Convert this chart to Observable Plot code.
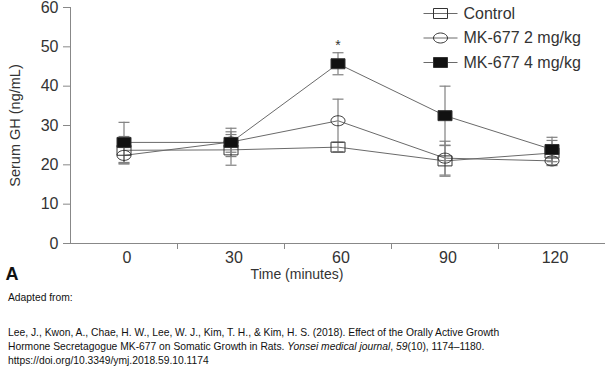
<!DOCTYPE html>
<html>
<head>
<meta charset="utf-8">
<script src="https://cdn.jsdelivr.net/npm/d3@7"></script>
<script src="https://cdn.jsdelivr.net/npm/@observablehq/plot@0.6"></script>
<style>
  html, body { margin: 0; padding: 0; background: #fff; }
  #chart { width: 605px; }
  .caption { font-family: "Liberation Sans", Arial, sans-serif; font-size: 10.3px; color: #111; padding-left: 8px; line-height: 14px; white-space: nowrap; }
  .caption p { margin: 0; }
</style>
</head>
<body>
<div id="chart"></div>
<div class="caption">
  <p style="margin-top:3px">Adapted from:</p>
  <p style="margin-top:21px">Lee, J., Kwon, A., Chae, H. W., Lee, W. J., Kim, T. H., &amp; Kim, H. S. (2018). Effect of the Orally Active Growth<br>Hormone Secretagogue MK-677 on Somatic Growth in Rats. <i>Yonsei medical journal</i>, <i>59</i>(10), 1174–1180.<br>https://doi.org/10.3349/ymj.2018.59.10.1174</p>
</div>
<script>
// ---- data ----
const times = [0, 30, 60, 90, 120];
const seriesNames = ["Control", "MK-677 2 mg/kg", "MK-677 4 mg/kg"];
const control = [23.7, 23.8, 24.5, 21.0, 23.0];
const controlErr = [3.5, 3.9, 1.2, 3.9, 3.2];
const mk2 = [22.4, 25.8, 31.2, 21.7, 21.0];
const mk2Err = [2.0, 2.6, 5.5, 4.3, 1.0];
const mk4 = [25.7, 25.7, 45.7, 32.5, 23.9];
const mk4Err = [5.1, 3.6, 2.8, 7.5, 3.1];
const yTicks = [0, 10, 20, 30, 40, 50, 60];
const xBoundaries = [15, 45, 75, 105];
const significance = [{time: 60, label: "*"}];

// ---- symbols ----
const rectSym = (w, h) => ({draw(ctx) { ctx.moveTo(-w/2, -h/2); ctx.lineTo(w/2, -h/2); ctx.lineTo(w/2, h/2); ctx.lineTo(-w/2, h/2); ctx.closePath(); }});
const ellipseSym = (rx, ry) => ({draw(ctx) {
  const k = 0.5523;
  ctx.moveTo(rx, 0);
  ctx.bezierCurveTo(rx, ry*k, rx*k, ry, 0, ry);
  ctx.bezierCurveTo(-rx*k, ry, -rx, ry*k, -rx, 0);
  ctx.bezierCurveTo(-rx, -ry*k, -rx*k, -ry, 0, -ry);
  ctx.bezierCurveTo(rx*k, -ry, rx, -ry*k, rx, 0);
  ctx.closePath();
}});
const hline = (w) => ({draw(ctx) { ctx.moveTo(-w/2, 0); ctx.lineTo(w/2, 0); }});

const values = [control, mk2, mk4];
const errs = [controlErr, mk2Err, mk4Err];
const symbols = [rectSym(14, 10), ellipseSym(7, 5), rectSym(14, 10)];
const fills = ["none", "none", "#111"];

const rows = [];
seriesNames.forEach((s, si) => times.forEach((t, i) => rows.push({series: s, si, time: t, value: values[si][i], err: errs[si][i]})));

const lineColor = "#6a6a6a";
const barColor = "#808080";
const markStroke = "#333";
const font = "'Liberation Sans', Arial, sans-serif";

const marks = [
  Plot.ruleX([-15], {y1: 0, y2: 60, stroke: "#888", strokeWidth: 1}),
  Plot.ruleY([0], {stroke: "#888", strokeWidth: 1}),
  Plot.axisY(yTicks, {tickSize: 7, tickPadding: 5, fontSize: 16, fill: "#333", stroke: "#888", label: null, fontFamily: font}),
  Plot.axisX(xBoundaries, {tickSize: 6, tickFormat: () => "", stroke: "#888", label: null}),
  Plot.axisX(times, {tickSize: 0, tickPadding: 8, dx: 3, fontSize: 16, fill: "#333", label: null, fontFamily: font}),
  Plot.line(rows, {x: "time", y: "value", z: "series", stroke: lineColor, strokeWidth: 1}),
  Plot.ruleX(rows, {x: "time", y1: d => d.value - d.err, y2: d => d.value + d.err, stroke: barColor, strokeWidth: 1.2}),
  Plot.dot(rows, {x: "time", y: d => d.value + d.err, symbol: hline(11), stroke: barColor, strokeWidth: 1.2, fill: "none"}),
  Plot.dot(rows, {x: "time", y: d => d.value - d.err, symbol: hline(11), stroke: barColor, strokeWidth: 1.2, fill: "none"}),
];
seriesNames.forEach((s, si) => {
  marks.push(Plot.dot(rows.filter(d => d.si === si), {x: "time", y: "value", symbol: symbols[si], stroke: markStroke, strokeWidth: 1, fill: fills[si]}));
});
marks.push(Plot.text(significance, {x: "time", y: d => mk4[times.indexOf(d.time)] + mk4Err[times.indexOf(d.time)], text: "label", dy: -7, fontSize: 14, fill: "#333", fontFamily: font}));

// legend
seriesNames.forEach((s, si) => {
  const dy = 6 + si * 24.5;
  marks.push(Plot.dot([s], {frameAnchor: "top-left", dx: 370, dy, symbol: hline(34), stroke: lineColor, strokeWidth: 1}));
  marks.push(Plot.dot([s], {frameAnchor: "top-left", dx: 370, dy, symbol: symbols[si], stroke: markStroke, strokeWidth: 1, fill: fills[si]}));
  marks.push(Plot.text([s], {frameAnchor: "top-left", dx: 393, dy, text: d => d, textAnchor: "start", lineAnchor: "middle", fontSize: 16, fill: "#333", fontFamily: font}));
});

// axis titles & panel label
marks.push(Plot.text(["Serum GH (ng/mL)"], {frameAnchor: "left", dx: -55, rotate: -90, textAnchor: "middle", lineAnchor: "middle", text: d => d, fontSize: 14.5, fill: "#333", fontFamily: "'Liberation Sans Narrow', 'Liberation Sans', sans-serif"}));
marks.push(Plot.text(["Time (minutes)"], {frameAnchor: "bottom", dx: -41, dy: 35, textAnchor: "middle", text: d => d, fontSize: 14, fill: "#333", fontFamily: font}));
marks.push(Plot.text(["A"], {frameAnchor: "bottom-left", dx: -65, dy: 36, text: d => d, textAnchor: "start", fontSize: 18, fontWeight: "bold", fill: "#111", fontFamily: font}));

const chart = Plot.plot({
  width: 605,
  height: 288,
  marginLeft: 70,
  marginRight: 0,
  marginTop: 7,
  marginBottom: 45,
  x: {type: "linear", domain: [-15, 135], axis: null},
  y: {domain: [0, 60], axis: null},
  style: {background: "#fff", overflow: "visible"},
  marks
});
document.getElementById("chart").appendChild(chart);
</script>
</body>
</html>
